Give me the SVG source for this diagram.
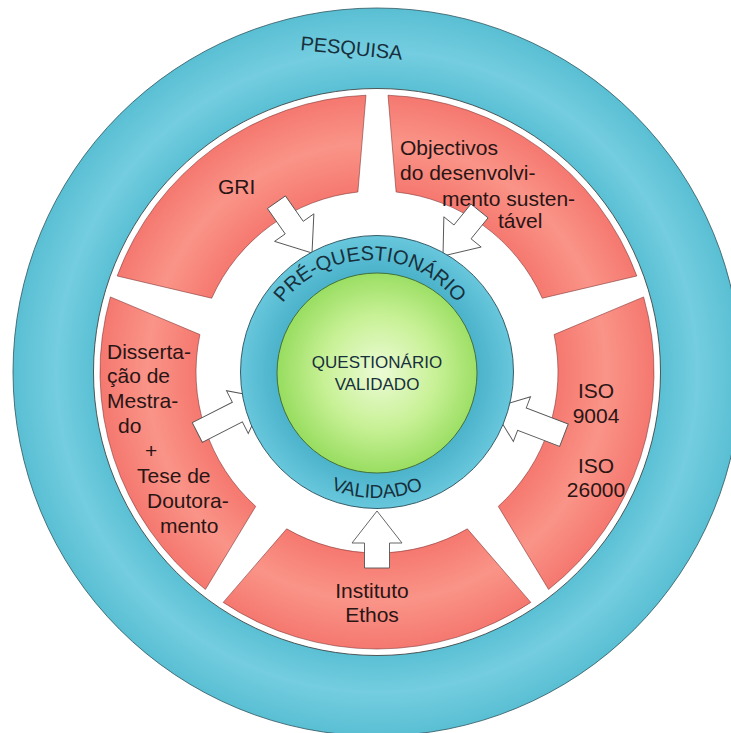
<svg xmlns="http://www.w3.org/2000/svg" width="731" height="733" viewBox="0 0 731 733">
<style>
.seg{stroke:#7a3030;stroke-width:0.8;stroke-opacity:0.7}
.lbl{font-family:"Liberation Sans",Arial,sans-serif;font-size:21px;fill:#2a1515}
.ring{font-family:"Liberation Sans",Arial,sans-serif;fill:#17303c}
.arr{fill:#ffffff;stroke:#555555;stroke-width:0.9;stroke-linejoin:miter}
</style>
<defs>
<radialGradient id="gOuter" gradientUnits="userSpaceOnUse" cx="377" cy="372" r="364">
<stop offset="0.78" stop-color="#5bc0d4"/>
<stop offset="0.88" stop-color="#74cde0"/>
<stop offset="1" stop-color="#5abfd3"/>
</radialGradient>
<radialGradient id="gRed" gradientUnits="userSpaceOnUse" cx="377" cy="372" r="364">
<stop offset="0.49" stop-color="#f5776e"/>
<stop offset="0.63" stop-color="#fa9488"/>
<stop offset="0.77" stop-color="#f4766e"/>
</radialGradient>
<radialGradient id="gInner" gradientUnits="userSpaceOnUse" cx="377" cy="372" r="137">
<stop offset="0.72" stop-color="#4ab2ca"/>
<stop offset="1" stop-color="#68c7dc"/>
</radialGradient>
<radialGradient id="gGreen" gradientUnits="userSpaceOnUse" cx="380" cy="372" r="102">
<stop offset="0" stop-color="#ecfbd6"/>
<stop offset="0.55" stop-color="#c8f196"/>
<stop offset="1" stop-color="#98dd60"/>
</radialGradient>
<path id="arcTop" d="M 260 370 A 110 110 0 0 1 480 370"/>
<path id="arcBot" d="M 251 372 A 126 126 0 0 0 503 372"/>
</defs>

<g id="pesquisa">
<circle cx="377" cy="372" r="364" fill="url(#gOuter)" stroke="#2d5560" stroke-width="0.8"/>
<circle cx="377" cy="372" r="283.5" fill="#ffffff" stroke="#333333" stroke-width="0.8"/>
<text class="ring" x="300" y="50" font-size="20" transform="rotate(5.5 300 50)">PESQUISA</text>
</g>

<g id="gri">
<path class="seg" fill="url(#gRed)" d="M 117.16 275.98 A 277 277 0 0 1 365.98 95.22 L 357.89 192.01 A 181 181 0 0 0 211.72 298.21 Z"/>
<text class="lbl" x="218" y="194">GRI</text>
</g>

<g id="objectivos">
<path class="seg" fill="url(#gRed)" d="M 388.02 95.22 A 277 277 0 0 1 636.83 275.98 L 542.28 298.21 A 181 181 0 0 0 396.11 192.01 Z"/>
</g>

<g id="iso">
<path class="seg" fill="url(#gRed)" d="M 643.64 296.95 A 277 277 0 0 1 548.58 589.46 L 498.28 506.36 A 181 181 0 0 0 554.08 334.55 Z"/>
<text class="lbl" text-anchor="middle"><tspan x="596" y="398">ISO</tspan><tspan x="596" y="423">9004</tspan><tspan x="596" y="473">ISO</tspan><tspan x="596" y="497">26000</tspan></text>
</g>

<g id="instituto-ethos">
<path class="seg" fill="url(#gRed)" d="M 530.80 602.38 A 277 277 0 0 1 223.20 602.38 L 286.66 528.85 A 181 181 0 0 0 467.34 528.85 Z"/>
</g>

<g id="dissertacao">
<path class="seg" fill="url(#gRed)" d="M 205.42 589.46 A 277 277 0 0 1 110.36 296.95 L 199.92 334.55 A 181 181 0 0 0 255.73 506.37 Z"/>
<text class="lbl"><tspan x="107" y="359">Disserta-</tspan><tspan x="107" y="383">ção de</tspan><tspan x="107" y="408">Mestra-</tspan><tspan x="118" y="433">do</tspan><tspan x="145" y="458">+</tspan><tspan x="137" y="483">Tese de</tspan><tspan x="147" y="508">Doutora-</tspan><tspan x="160" y="533">mento</tspan></text>
</g>

<g id="connectors">
<polygon class="arr" transform="translate(312 253) rotate(55)" points="-62,-11 -31,-11 -31,-24 0,0 -31,24 -31,11 -62,11"/>
<polygon class="arr" transform="translate(443 256) rotate(129)" points="-58,-11 -31,-11 -31,-24 0,0 -31,24 -31,11 -58,11"/>
<polygon class="arr" transform="translate(265 398) rotate(-27)" points="-76,-11 -31,-11 -31,-24 0,0 -31,24 -31,11 -76,11"/>
<polygon class="arr" transform="translate(493 408) rotate(201)" points="-76,-12 -31,-12 -31,-24 0,0 -31,24 -31,12 -76,12"/>
<polygon class="arr" transform="translate(377 511) rotate(-90)" points="-57,-12.5 -32,-12.5 -32,-25 0,0 -32,25 -32,12.5 -57,12.5"/>
</g>

<g id="objectivos-label">
<text class="lbl"><tspan x="400" y="155">Objectivos</tspan><tspan x="400" y="180">do desenvolvi-</tspan><tspan x="442" y="206">mento susten-</tspan><tspan x="498" y="228">tável</tspan></text>
</g>

<g id="instituto-ethos-label">
<text class="lbl" text-anchor="middle"><tspan x="372" y="598">Instituto</tspan><tspan x="372" y="622">Ethos</tspan></text>
</g>

<g id="pre-questionario">
<circle cx="377" cy="372" r="136.5" fill="url(#gInner)" stroke="#2a4f5a" stroke-width="0.9"/>
<text class="ring" font-size="20"><textPath href="#arcTop" startOffset="50%" text-anchor="middle">PRÉ-QUESTIONÁRIO</textPath></text>
<text class="ring" font-size="19"><textPath href="#arcBot" startOffset="50%" text-anchor="middle">VALIDADO</textPath></text>
</g>

<g id="questionario-validado">
<circle cx="377" cy="373" r="100" fill="url(#gGreen)" stroke="#3d6630" stroke-width="0.9"/>
<text class="ring" font-size="17" text-anchor="middle" fill="#1c1c1c"><tspan x="377" y="368">QUESTIONÁRIO</tspan><tspan x="377" y="390">VALIDADO</tspan></text>
</g>
</svg>
